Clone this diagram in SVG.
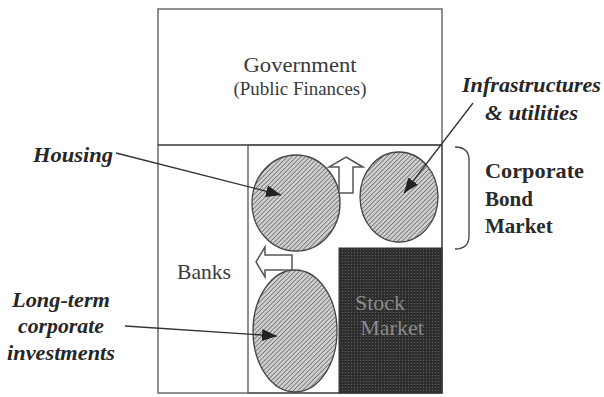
<svg xmlns="http://www.w3.org/2000/svg" width="604" height="397" viewBox="0 0 604 397">
<style>
.frame{fill:none;stroke:#555;stroke-width:1.3}
.txt{font-family:"Liberation Serif","Times New Roman",serif;fill:#3a3a3a}
.lbl{font-family:"Liberation Serif","Times New Roman",serif;font-weight:bold;font-style:italic;fill:#262626;font-size:21px}
.bold{font-family:"Liberation Serif","Times New Roman",serif;font-weight:bold;fill:#2a2a2a;font-size:21px}
.ell{fill:url(#hatch);stroke:#444;stroke-width:1.3}
.blk{fill:#fff;stroke:#555;stroke-width:1.5}
.conn{fill:none;stroke:#333;stroke-width:1.3}
</style>
<defs>
<pattern id="hatch" width="3.2" height="3.2" patternUnits="userSpaceOnUse" patternTransform="rotate(45)">
<rect width="3.2" height="3.2" fill="#cfcfcf"/>
<line x1="0" y1="0" x2="0" y2="3.2" stroke="#5a5a5a" stroke-width="1.3"/>
</pattern>
<pattern id="grid" width="3" height="3" patternUnits="userSpaceOnUse">
<rect width="3" height="3" fill="#2e2e2e"/>
<rect x="0" y="0" width="1" height="1" fill="#5e5e5e"/>
</pattern>
<marker id="ah" markerWidth="16" markerHeight="12" refX="15" refY="6" orient="auto" markerUnits="userSpaceOnUse">
<path d="M0,0 L15,6 L0,12 Z" fill="#222"/>
</marker>
</defs>

<g id="government">
<rect class="frame" x="158" y="9" width="284" height="136"/>
<text class="txt" x="300" y="72" font-size="22" text-anchor="middle" textLength="113" lengthAdjust="spacingAndGlyphs">Government</text>
<text class="txt" x="300" y="95" font-size="18" text-anchor="middle" textLength="133" lengthAdjust="spacingAndGlyphs">(Public Finances)</text>
</g>

<g id="banks">
<rect class="frame" x="158" y="145" width="284" height="248"/>
<text class="txt" x="204" y="279" font-size="21" text-anchor="middle" textLength="54" lengthAdjust="spacingAndGlyphs">Banks</text>
</g>

<g id="market-area">
<rect class="frame" x="248" y="145" width="194" height="248"/>
</g>

<g id="stock-market">
<rect x="339" y="248" width="103" height="145" fill="url(#grid)" stroke="#333" stroke-width="1"/>
<text class="txt" x="380" y="310" font-size="22" text-anchor="middle" style="fill:#8a8a8a">Stock</text>
<text class="txt" x="392" y="335" font-size="22" text-anchor="middle" style="fill:#8a8a8a">Market</text>
</g>

<g id="housing-ellipse">
<ellipse class="ell" cx="296" cy="203" rx="44" ry="48"/>
</g>
<g id="infra-ellipse">
<ellipse class="ell" cx="399" cy="197" rx="39" ry="45"/>
</g>
<g id="longterm-ellipse">
<ellipse class="ell" cx="295" cy="331" rx="42" ry="61"/>
</g>

<g id="up-arrow">
<path class="blk" d="M346,157 L363,167 L353,167 L353,193 L339,193 L339,167 L329,167 Z"/>
</g>
<g id="left-arrow">
<path class="blk" d="M256,262 L265,247 L265,255 L292,255 L292,270 L265,270 L265,277 Z"/>
</g>

<g id="bond-bracket">
<path class="frame" d="M455,147 Q469,147 469,160 L469,236 Q469,249 455,249" style="stroke:#444"/>
<text class="bold" x="485" y="178" textLength="99" lengthAdjust="spacingAndGlyphs">Corporate</text>
<text class="bold" x="485" y="206">Bond</text>
<text class="bold" x="485" y="233">Market</text>
</g>

<g id="labels">
<text class="lbl" x="33" y="162" style="font-size:22px" textLength="80" lengthAdjust="spacingAndGlyphs">Housing</text>
<text class="lbl" x="462" y="92" textLength="139" lengthAdjust="spacingAndGlyphs">Infrastructures</text>
<text class="lbl" x="485" y="120" textLength="93" lengthAdjust="spacingAndGlyphs">&amp; utilities</text>
<text class="lbl" x="61" y="307" text-anchor="middle" textLength="98" lengthAdjust="spacingAndGlyphs">Long-term</text>
<text class="lbl" x="61" y="333" text-anchor="middle" textLength="86" lengthAdjust="spacingAndGlyphs">corporate</text>
<text class="lbl" x="61" y="360" text-anchor="middle" textLength="108" lengthAdjust="spacingAndGlyphs">investments</text>
</g>

<g id="connectors">
<line class="conn" x1="116" y1="153" x2="281" y2="195" marker-end="url(#ah)"/>
<line class="conn" x1="473" y1="103" x2="404" y2="193" marker-end="url(#ah)"/>
<line class="conn" x1="125" y1="326" x2="277" y2="336" marker-end="url(#ah)"/>
</g>
</svg>
